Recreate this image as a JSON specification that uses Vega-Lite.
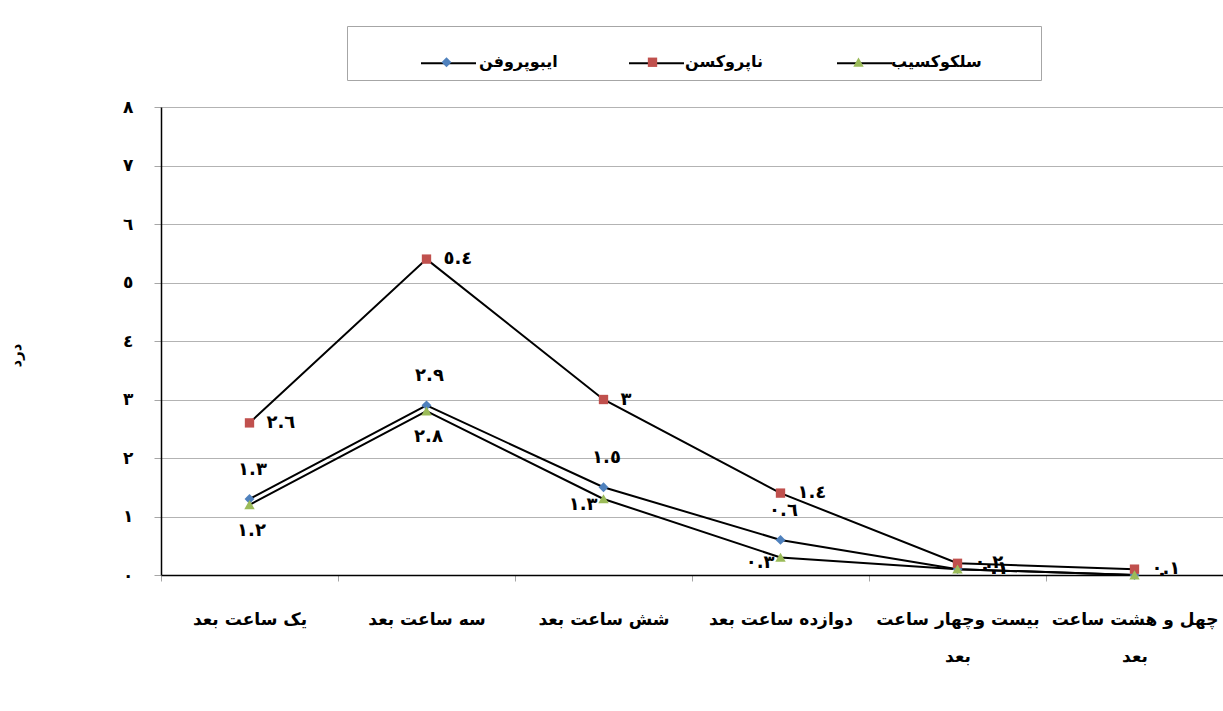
{
  "$schema": "https://vega.github.io/schema/vega-lite/v6.json",
  "width": 1062,
  "height": 468,
  "autosize": {"type": "none"},
  "padding": {"left": 161, "top": 107, "right": 0, "bottom": 136},
  "background": "white",
  "config": {"view": {"stroke": null}, "font": "DejaVu Sans"},
  "data": {
    "values": [
      {"time": "یک ساعت بعد", "drug": "ایبوپروفن", "value": 1.3, "label": "١.٣"},
      {"time": "سه ساعت بعد", "drug": "ایبوپروفن", "value": 2.9, "label": "٢.٩"},
      {"time": "شش ساعت بعد", "drug": "ایبوپروفن", "value": 1.5, "label": "١.٥"},
      {"time": "دوازده ساعت بعد", "drug": "ایبوپروفن", "value": 0.6, "label": "٠.٦"},
      {"time": "بیست وچهار ساعت بعد", "drug": "ایبوپروفن", "value": 0.1, "label": "٠.١"},
      {"time": "چهل و هشت ساعت بعد", "drug": "ایبوپروفن", "value": 0, "label": "٠"},
      {"time": "یک ساعت بعد", "drug": "ناپروکسن", "value": 2.6, "label": "٢.٦"},
      {"time": "سه ساعت بعد", "drug": "ناپروکسن", "value": 5.4, "label": "٥.٤"},
      {"time": "شش ساعت بعد", "drug": "ناپروکسن", "value": 3, "label": "٣"},
      {"time": "دوازده ساعت بعد", "drug": "ناپروکسن", "value": 1.4, "label": "١.٤"},
      {"time": "بیست وچهار ساعت بعد", "drug": "ناپروکسن", "value": 0.2, "label": "٠.٢"},
      {"time": "چهل و هشت ساعت بعد", "drug": "ناپروکسن", "value": 0.1, "label": "٠.١"},
      {"time": "یک ساعت بعد", "drug": "سلکوکسیب", "value": 1.2, "label": "١.٢"},
      {"time": "سه ساعت بعد", "drug": "سلکوکسیب", "value": 2.8, "label": "٢.٨"},
      {"time": "شش ساعت بعد", "drug": "سلکوکسیب", "value": 1.3, "label": "١.٣"},
      {"time": "دوازده ساعت بعد", "drug": "سلکوکسیب", "value": 0.3, "label": "٠.٣"},
      {"time": "بیست وچهار ساعت بعد", "drug": "سلکوکسیب", "value": 0.1, "label": "٠.١"},
      {"time": "چهل و هشت ساعت بعد", "drug": "سلکوکسیب", "value": 0, "label": "٠"}
    ]
  },
  "encoding": {
    "x": {
      "field": "time",
      "type": "nominal",
      "sort": ["یک ساعت بعد", "سه ساعت بعد", "شش ساعت بعد", "دوازده ساعت بعد", "بیست وچهار ساعت بعد", "چهل و هشت ساعت بعد"],
      "scale": {"type": "band", "paddingInner": 0, "paddingOuter": 0},
      "axis": {
        "title": null,
        "labelAngle": 0,
        "labelFont": "DejaVu Sans",
        "labelFontSize": 17,
        "labelFontWeight": "bold",
        "labelColor": "black",
        "labelPadding": 30,
        "labelLineHeight": 37,
        "labelExpr": "datum.value == 'بیست وچهار ساعت بعد' ? ['بیست وچهار ساعت', 'بعد'] : datum.value == 'چهل و هشت ساعت بعد' ? ['چهل و هشت ساعت', 'بعد'] : datum.value",
        "tickBand": "extent",
        "tickColor": "#a6a6a6",
        "tickSize": 6,
        "domainColor": "black",
        "domainWidth": 1.5,
        "grid": false
      }
    },
    "y": {
      "field": "value",
      "type": "quantitative",
      "scale": {"domain": [0, 8], "nice": false},
      "axis": {
        "values": [0, 1, 2, 3, 4, 5, 6, 7, 8],
        "labelExpr": "['٠','١','٢','٣','٤','٥','٦','٧','٨'][datum.value]",
        "labelFont": "DejaVu Sans",
        "labelFontSize": 17,
        "labelFontWeight": "bold",
        "labelColor": "black",
        "labelPadding": 21,
        "tickColor": "#a6a6a6",
        "tickSize": 7,
        "domainColor": "black",
        "domainWidth": 1.5,
        "grid": true,
        "gridColor": "#b3b3b3",
        "gridWidth": 1,
        "title": "درد",
        "titleFont": "DejaVu Sans",
        "titleFontSize": 15,
        "titleFontWeight": "bold",
        "titleColor": "black",
        "titleAngle": 270,
        "titleX": -146,
        "titleY": 248,
        "titleAlign": "center",
        "titleBaseline": "middle"
      }
    }
  },
  "layer": [
    {
      "transform": [{"calculate": "datum.drug", "as": "lineKey"}],
      "mark": {"type": "line", "strokeWidth": 2},
      "encoding": {
        "stroke": {
          "field": "lineKey",
          "type": "nominal",
          "sort": ["ایبوپروفن", "ناپروکسن", "سلکوکسیب"],
          "scale": {"range": ["black", "black", "black"]},
          "legend": {
            "orient": "none",
            "legendX": 186,
            "legendY": -81,
            "direction": "horizontal",
            "columns": 3,
            "gridAlign": "all",
            "symbolType": "stroke",
            "symbolSize": 3025,
            "symbolStrokeWidth": 2,
            "symbolStrokeColor": "black",
            "labelExpr": "'00000000000000'",
            "labelFont": "DejaVu Sans",
            "labelFontSize": 15,
            "labelColor": "transparent",
            "labelOffset": 5,
            "columnPadding": 9,
            "padding": 8.5,
            "strokeColor": "#a6a6a6",
            "fillColor": "white",
            "title": ".",
            "titleOrient": "left",
            "titleFontSize": 1,
            "titleColor": "transparent",
            "titlePadding": 63.5
          }
        }
      }
    },
    {
      "mark": {"type": "point", "filled": true, "opacity": 1, "size": 3025},
      "encoding": {
        "color": {
          "field": "drug",
          "type": "nominal",
          "scale": {"domain": ["ایبوپروفن", "ناپروکسن", "سلکوکسیب"], "range": ["#4F81BD", "#C0504D", "#9BBB59"]},
          "legend": {
            "orient": "none",
            "legendX": 258,
            "legendY": -72.5,
            "direction": "horizontal",
            "columns": 3,
            "gridAlign": "all",
            "symbolSize": 3025,
            "symbolStrokeWidth": 0,
            "symbolOpacity": 1,
            "labelFont": "DejaVu Sans",
            "labelFontSize": 16,
            "labelFontWeight": "bold",
            "labelColor": "black",
            "labelOffset": 5,
            "columnPadding": 55,
            "padding": 0,
            "title": null
          }
        },
        "shape": {
          "field": "drug",
          "type": "nominal",
          "scale": {
            "domain": ["ایبوپروفن", "ناپروکسن", "سلکوکسیب"],
            "range": ["M0,-0.18L0.18,0L0,0.18L-0.18,0Z", "M-0.17,-0.17H0.17V0.17H-0.17Z", "M0,-0.17L0.19,0.16L-0.19,0.16Z"]
          },
          "legend": {
            "orient": "none",
            "legendX": 258,
            "legendY": -72.5,
            "direction": "horizontal",
            "columns": 3,
            "gridAlign": "all",
            "symbolSize": 3025,
            "symbolStrokeWidth": 0,
            "labelFont": "DejaVu Sans",
            "labelFontSize": 16,
            "labelFontWeight": "bold",
            "labelColor": "black",
            "labelOffset": 5,
            "columnPadding": 55,
            "padding": 0,
            "title": null
          }
        }
      }
    },
    {
      "transform": [{"filter": "datum.drug == 'ناپروکسن'"}],
      "mark": {"type": "text", "align": "left", "baseline": "middle", "dx": 17, "font": "DejaVu Sans", "fontSize": 18, "fontWeight": "bold", "color": "black"},
      "encoding": {"text": {"field": "label"}}
    },
    {
      "transform": [{"filter": "datum.drug == 'ایبوپروفن' && datum.value > 0.3"}],
      "mark": {"type": "text", "align": "center", "baseline": "middle", "dx": 3, "dy": -29, "font": "DejaVu Sans", "fontSize": 18, "fontWeight": "bold", "color": "black"},
      "encoding": {"text": {"field": "label"}}
    },
    {
      "transform": [{"filter": "datum.drug != 'ناپروکسن' && datum.value < 0.2"}],
      "mark": {"type": "text", "align": "left", "baseline": "middle", "dx": 22, "font": "DejaVu Sans", "fontSize": 18, "fontWeight": "bold", "color": "black"},
      "encoding": {"text": {"field": "label"}}
    },
    {
      "transform": [{"filter": "datum.drug == 'سلکوکسیب' && (datum.time == 'یک ساعت بعد' || datum.time == 'سه ساعت بعد')"}],
      "mark": {"type": "text", "align": "center", "baseline": "middle", "dx": 2, "dy": 26, "font": "DejaVu Sans", "fontSize": 18, "fontWeight": "bold", "color": "black"},
      "encoding": {"text": {"field": "label"}}
    },
    {
      "transform": [{"filter": "datum.drug == 'سلکوکسیب' && (datum.time == 'شش ساعت بعد' || datum.time == 'دوازده ساعت بعد')"}],
      "mark": {"type": "text", "align": "right", "baseline": "middle", "dx": -6, "dy": 6, "font": "DejaVu Sans", "fontSize": 18, "fontWeight": "bold", "color": "black"},
      "encoding": {"text": {"field": "label"}}
    }
  ]
}
